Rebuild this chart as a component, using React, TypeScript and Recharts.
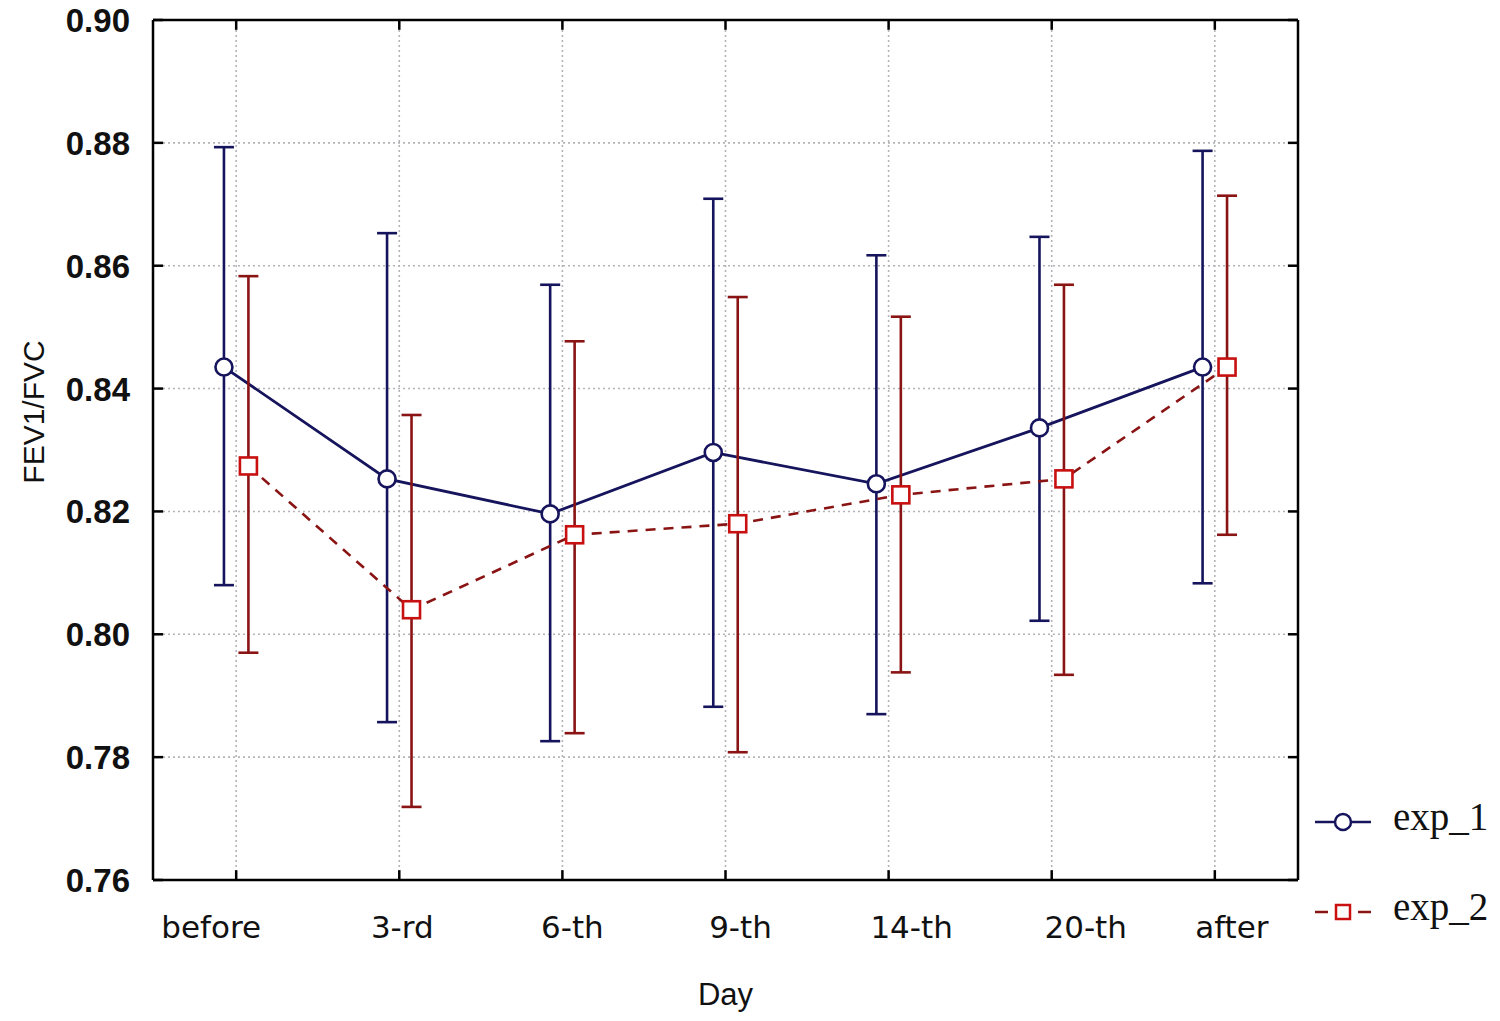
import React from 'react';
import { ComposedChart, Line, XAxis, YAxis, CartesianGrid, ErrorBar, ReferenceLine } from 'recharts';

const days = ['before', '3-rd', '6-th', '9-th', '14-th', '20-th', 'after'];
const yTicks = [0.76, 0.78, 0.8, 0.82, 0.84, 0.86, 0.88, 0.9];
const xTicks = [0, 1, 2, 3, 4, 5, 6];

const exp1Mean = [0.8435, 0.8253, 0.8196, 0.8296, 0.8245, 0.8336, 0.8435];
const exp1Upper = [0.8793, 0.8653, 0.8569, 0.8709, 0.8617, 0.8647, 0.8787];
const exp1Lower = [0.808, 0.7857, 0.7826, 0.7882, 0.787, 0.8022, 0.8083];

const exp2Mean = [0.8274, 0.804, 0.8162, 0.818, 0.8227, 0.8253, 0.8435];
const exp2Upper = [0.8583, 0.8357, 0.8477, 0.8549, 0.8517, 0.8569, 0.8714];
const exp2Lower = [0.797, 0.7719, 0.7839, 0.7808, 0.7938, 0.7934, 0.8162];

// horizontal nudge of each category label (style only), as in the original
const labelNudge = [-25, 3, 10, 15, 23, 34, 17];

const NAVY = '#15145c';
const DARKRED = '#8a1414';
const RED = '#c81010';

const exp1Data = days.map((d, i) => ({
  x: i - 0.075,
  day: d,
  mean: exp1Mean[i],
  err: [exp1Mean[i] - exp1Lower[i], exp1Upper[i] - exp1Mean[i]],
}));
const exp2Data = days.map((d, i) => ({
  x: i + 0.075,
  day: d,
  mean: exp2Mean[i],
  err: [exp2Mean[i] - exp2Lower[i], exp2Upper[i] - exp2Mean[i]],
}));

const XDOMAIN: [number, number] = [-0.51, 6.51];
const YDOMAIN: [number, number] = [0.76, 0.9];
// inward tick length expressed in axis units (~10px)
const TICK_X = 0.062;
const TICK_Y = 0.0016;

const CircleDot = (props: any) => {
  const { cx, cy, index } = props;
  if (cx == null || cy == null) return null;
  return <circle key={'c' + index} cx={cx} cy={cy} r={8.5} fill="#fff" stroke={NAVY} strokeWidth={2.6} />;
};
const SquareDot = (props: any) => {
  const { cx, cy, index } = props;
  if (cx == null || cy == null) return null;
  return <rect key={'s' + index} x={cx - 8.5} y={cy - 8.5} width={17} height={17} fill="#fff" stroke={RED} strokeWidth={2.6} />;
};

const EmptyTick = () => <g />;

const XTick = (props: any) => {
  const { x, y, payload } = props;
  const i = payload.value;
  return (
    <text x={x} y={y} dx={labelNudge[i] || 0} dy={58} textAnchor="middle" fontFamily="DejaVu Sans" fontSize={31} fill="#111">
      {days[i]}
    </text>
  );
};
const YTick = (props: any) => {
  const { x, y, payload } = props;
  return (
    <text x={x} y={y} dy={12} textAnchor="end" fontFamily="Liberation Sans" fontWeight="bold" fontSize={33} fill="#111">
      {Number(payload.value).toFixed(2)}
    </text>
  );
};

const YLabel = (props: any) => {
  const { viewBox } = props;
  const cx = viewBox.x + 33;
  const cy = viewBox.y + viewBox.height / 2 - 38;
  return (
    <text x={cx} y={cy} transform={`rotate(-90 ${cx} ${cy})`} textAnchor="middle" dominantBaseline="central" fontFamily="Liberation Sans" fontSize={30} fill="#111">
      FEV1/FVC
    </text>
  );
};
const XLabel = (props: any) => {
  const { viewBox } = props;
  const cx = viewBox.x + viewBox.width / 2;
  const cy = viewBox.y + 125;
  return (
    <text x={cx} y={cy} textAnchor="middle" fontFamily="Liberation Sans" fontSize={31} fill="#111">
      Day
    </text>
  );
};

const LegendBox = () => (
  <svg width={182} height={140} style={{ position: 'absolute', left: 1315, top: 804, overflow: 'visible' }}>
    <line x1={0} y1={18} x2={56} y2={18} stroke={NAVY} strokeWidth={2.5} />
    <circle cx={28} cy={18} r={8} fill="#fff" stroke={NAVY} strokeWidth={2.5} />
    <text x={78} y={26} fontFamily="Liberation Serif" fontSize={39} fill="#111">exp_1</text>
    <line x1={0} y1={108} x2={13} y2={108} stroke={DARKRED} strokeWidth={2.5} />
    <line x1={43} y1={108} x2={56} y2={108} stroke={DARKRED} strokeWidth={2.5} />
    <rect x={21} y={101} width={14} height={14} fill="#fff" stroke={RED} strokeWidth={2.5} />
    <text x={78} y={116} fontFamily="Liberation Serif" fontSize={39} fill="#111">exp_2</text>
  </svg>
);

const frame = { stroke: '#000', strokeWidth: 2.5 };

export default function App() {
  return (
    <div style={{ position: 'relative', width: 1500, height: 1021, margin: -8, overflow: 'hidden' }}>
      <ComposedChart width={1500} height={1021} margin={{ top: 20, right: 202, bottom: 8, left: 0 }}>
        <CartesianGrid xAxisId="x" yAxisId="y" stroke="#b4b4b8" strokeWidth={1.6} strokeDasharray="2 3" />
        <XAxis
          xAxisId="x"
          type="number"
          dataKey="x"
          domain={XDOMAIN}
          ticks={xTicks}
          allowDataOverflow
          height={133}
          tickSize={0}
          tickMargin={0}
          tickLine={false}
          axisLine={frame}
          tick={<XTick />}
          interval={0}
          label={<XLabel />}
        />
        <XAxis
          xAxisId="xt"
          type="number"
          dataKey="x"
          orientation="top"
          mirror
          domain={XDOMAIN}
          ticks={xTicks}
          allowDataOverflow
          tick={<EmptyTick />}
          tickLine={false}
          axisLine={frame}
        />
        <YAxis
          yAxisId="y"
          type="number"
          domain={YDOMAIN}
          ticks={yTicks}
          allowDataOverflow
          width={153}
          tickSize={0}
          tickMargin={23}
          tickLine={false}
          axisLine={frame}
          tick={<YTick />}
          interval={0}
          label={<YLabel />}
        />
        <YAxis
          yAxisId="yr"
          type="number"
          orientation="right"
          mirror
          domain={YDOMAIN}
          ticks={yTicks}
          allowDataOverflow
          tick={<EmptyTick />}
          tickLine={false}
          axisLine={frame}
        />
        {yTicks.map((v) => (
          <ReferenceLine
            key={'tl' + v}
            xAxisId="x"
            yAxisId="y"
            segment={[{ x: XDOMAIN[0], y: v }, { x: XDOMAIN[0] + TICK_X, y: v }]}
            stroke="#000"
            strokeWidth={2.5}
          />
        ))}
        {yTicks.map((v) => (
          <ReferenceLine
            key={'tr' + v}
            xAxisId="x"
            yAxisId="y"
            segment={[{ x: XDOMAIN[1] - TICK_X, y: v }, { x: XDOMAIN[1], y: v }]}
            stroke="#000"
            strokeWidth={2.5}
          />
        ))}
        {xTicks.map((v) => (
          <ReferenceLine
            key={'tb' + v}
            xAxisId="x"
            yAxisId="y"
            segment={[{ x: v, y: YDOMAIN[0] }, { x: v, y: YDOMAIN[0] + TICK_Y }]}
            stroke="#000"
            strokeWidth={2.5}
          />
        ))}
        {xTicks.map((v) => (
          <ReferenceLine
            key={'tt' + v}
            xAxisId="x"
            yAxisId="y"
            segment={[{ x: v, y: YDOMAIN[1] - TICK_Y }, { x: v, y: YDOMAIN[1] }]}
            stroke="#000"
            strokeWidth={2.5}
          />
        ))}
        <Line
          xAxisId="x"
          yAxisId="y"
          data={exp1Data}
          dataKey="mean"
          type="linear"
          stroke={NAVY}
          strokeWidth={2.8}
          dot={<CircleDot />}
          activeDot={false}
          isAnimationActive={false}
        >
          <ErrorBar dataKey="err" direction="y" width={10} stroke={NAVY} strokeWidth={2.6} />
        </Line>
        <Line
          xAxisId="x"
          yAxisId="y"
          data={exp2Data}
          dataKey="mean"
          type="linear"
          stroke={DARKRED}
          strokeWidth={2.6}
          strokeDasharray="10 8"
          dot={<SquareDot />}
          activeDot={false}
          isAnimationActive={false}
        >
          <ErrorBar dataKey="err" direction="y" width={10} stroke={DARKRED} strokeWidth={2.6} />
        </Line>
      </ComposedChart>
      <LegendBox />
    </div>
  );
}
